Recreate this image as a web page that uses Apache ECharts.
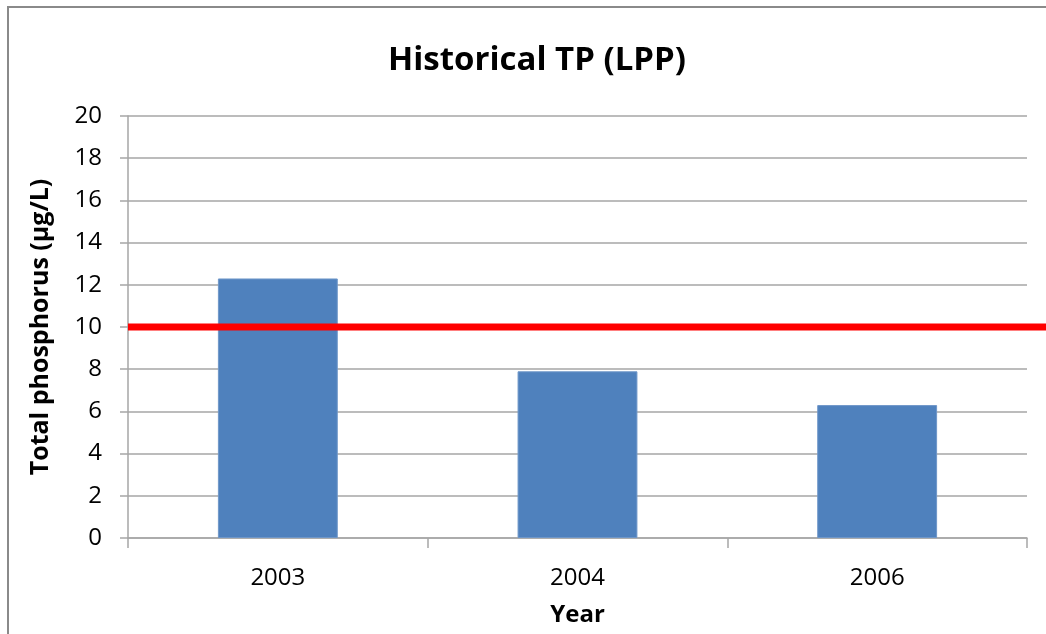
<!DOCTYPE html>
<html>
<head>
<meta charset="utf-8">
<style>
  html, body { margin: 0; padding: 0; background: #fff; }
  #chart { width: 1046px; height: 634px; }
</style>
<script src="https://cdn.jsdelivr.net/npm/echarts@6/dist/echarts.min.js"></script>
</head>
<body>
<div id="chart"></div>
<script>
// Sampling years and mean total phosphorus (µg/L)
const years = ['2003', '2004', '2006'];
const tpValues = [12.3, 7.9, 6.3];
// Guideline threshold drawn as a red horizontal line
const threshold = 10;
const yTicks = { min: 0, max: 20, interval: 2 };

const FONT = '"Open Sans", Lato, sans-serif';
const chart = echarts.init(document.getElementById('chart'));

chart.setOption({
  animation: false,
  backgroundColor: '#ffffff',
  graphic: [{
    type: 'rect',
    shape: { x: 8, y: 7, width: 1200, height: 800 },
    style: { fill: 'none', stroke: '#8a8a8a', lineWidth: 2 },
    silent: true,
    z: -1
  }],
  title: {
    text: 'Historical TP (LPP)',
    left: 532,
    top: 39,
    textAlign: 'center',
    textStyle: { fontFamily: FONT, fontWeight: 'bold', fontSize: 33, color: '#000' }
  },
  grid: [
    { left: 128, right: 19, top: 116, bottom: 96 },
    // overlay grid sharing the vertical scale, reaching the right edge for the threshold line
    { left: 128, right: 0, top: 116, bottom: 96 }
  ],
  xAxis: [{
    type: 'category',
    gridIndex: 0,
    data: years,
    name: 'Year',
    nameLocation: 'middle',
    nameGap: 65,
    nameTextStyle: { fontFamily: FONT, fontWeight: 'bold', fontSize: 24, color: '#000' },
    axisLine: { lineStyle: { color: '#a6a6a6', width: 1.5 } },
    axisTick: { show: true, length: 10, alignWithLabel: false, lineStyle: { color: '#a6a6a6', width: 1.5 } },
    axisLabel: { margin: 28, fontFamily: FONT, fontSize: 24, color: '#000' }
  }, {
    type: 'value',
    gridIndex: 1,
    min: 0,
    max: 1,
    show: false
  }],
  yAxis: [{
    type: 'value',
    gridIndex: 0,
    min: yTicks.min,
    max: yTicks.max,
    interval: yTicks.interval,
    name: 'Total phosphorus (µg/L)',
    nameLocation: 'middle',
    nameGap: 75,
    nameTextStyle: { fontFamily: FONT, fontWeight: 'bold', fontSize: 25, color: '#000' },
    axisLine: { show: true, lineStyle: { color: '#a6a6a6', width: 1.5 } },
    axisTick: { show: true, length: 8, lineStyle: { color: '#a6a6a6', width: 1.5 } },
    axisLabel: { margin: 26, fontFamily: FONT, fontSize: 24, color: '#000' },
    splitLine: { show: true, lineStyle: { color: '#a6a6a6', width: 1.5 } }
  }, {
    type: 'value',
    gridIndex: 1,
    min: yTicks.min,
    max: yTicks.max,
    show: false
  }],
  series: [{
    type: 'bar',
    xAxisIndex: 0,
    yAxisIndex: 0,
    data: tpValues,
    barWidth: '40%',
    itemStyle: { color: '#4f81bd', borderColor: '#6f97c9', borderWidth: 1 },
    z: 2
  }, {
    type: 'line',
    xAxisIndex: 1,
    yAxisIndex: 1,
    data: [[0, threshold], [1, threshold]],
    symbol: 'none',
    clip: false,
    lineStyle: { color: '#ff0000', width: 7 },
    z: 3
  }]
});
</script>
</body>
</html>
